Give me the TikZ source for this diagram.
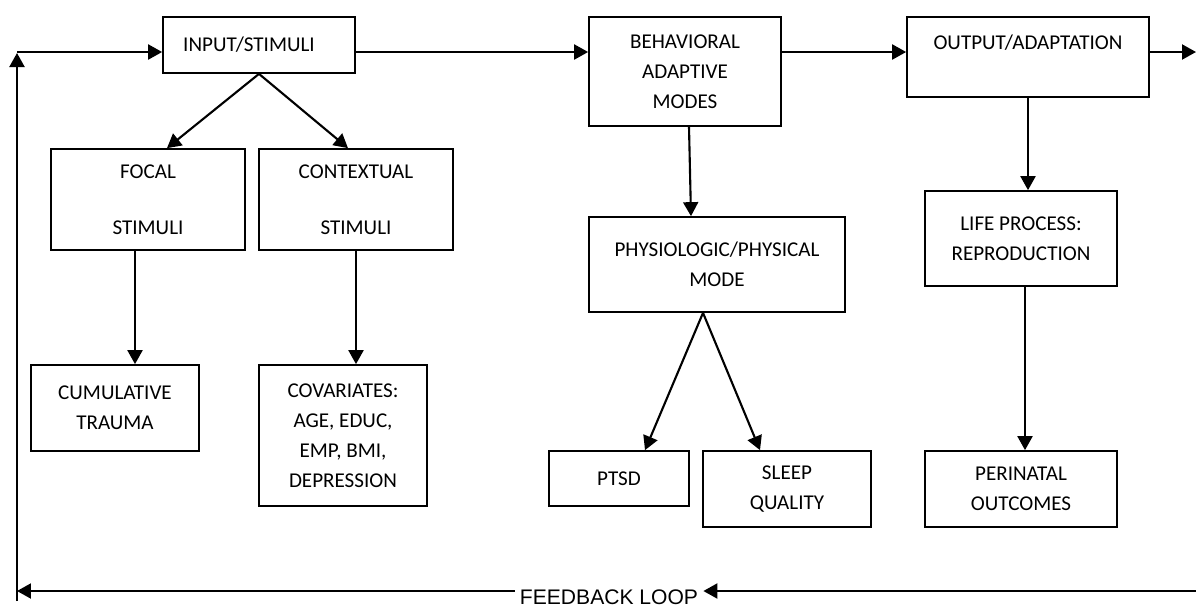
\documentclass[tikz,border=0pt]{standalone}
\usepackage{fontspec}
\setmainfont{Carlito}
\newfontfamily\arialfont{Liberation Sans}
\usetikzlibrary{arrows.meta}
\begin{document}
\begin{tikzpicture}[x=0.02cm, y=-0.02cm,
    box/.style = {shape=rectangle, draw, line width=1pt,
    align=center, inner sep=0pt,
    font=\fontsize{12}{17}\selectfont},
    arr/.style = {-{Triangle[length=0.28cm,width=0.3cm]}, line width=1.2pt},
    ]
  \useasboundingbox (0,0) rectangle (1196,606);

  % top row
  \node[box, minimum width=3.84cm, minimum height=1.12cm] (input) at (259,45) {INPUT/STIMULI\hspace{0.4cm}};
  \node[box, minimum width=3.84cm, minimum height=2.18cm] (behav) at (685,71.5) {BEHAVIORAL\\ADAPTIVE\\MODES};
  \node[box, minimum width=4.84cm, minimum height=1.6cm] (output) at (1028,57) {OUTPUT/ADAPTATION\\\mbox{}};

  % stimuli
  \node[box, minimum width=3.88cm, minimum height=2.02cm] (focal) at (148,199.5) {FOCAL\\[15pt]STIMULI};
  \node[box, minimum width=3.88cm, minimum height=2.02cm] (context) at (356,199.5) {CONTEXTUAL\\[15pt]STIMULI};
  \node[box, minimum width=3.36cm, minimum height=1.72cm] (trauma) at (115,408) {CUMULATIVE\\TRAUMA};
  \node[box, minimum width=3.36cm, minimum height=2.82cm] (covar) at (343,435.5) {COVARIATES:\\AGE, EDUC,\\EMP, BMI,\\DEPRESSION};

  % modes
  \node[box, minimum width=5.12cm, minimum height=1.9cm] (physio) at (717,264.5) {PHYSIOLOGIC/PHYSICAL\\MODE};
  \node[box, minimum width=2.8cm, minimum height=1.1cm] (ptsd) at (619,478.5) {PTSD};
  \node[box, minimum width=3.36cm, minimum height=1.52cm] (sleep) at (787,489) {SLEEP\\QUALITY};

  % life process
  \node[box, minimum width=3.84cm, minimum height=1.9cm] (life) at (1021,238.5) {LIFE PROCESS:\\REPRODUCTION};
  \node[box, minimum width=3.84cm, minimum height=1.52cm] (perinatal) at (1021,489) {PERINATAL\\OUTCOMES};

  % feedback loop
  \node[inner xsep=0.1cm, inner ysep=0pt, anchor=base, font=\arialfont\fontsize{12}{14}\selectfont] (loop) at (609,604) {FEEDBACK LOOP};
  \coordinate (row) at (17,52);
  \coordinate (rowend) at (1196,52);
  \coordinate (loopend) at (1196,591);
  \coordinate (loopleft) at (17,591);
  \coordinate (loopbase) at (17,601);

  \draw[arr] (row) -- (input.west |- row);
  \draw[arr] (input.east |- row) -- (behav.west |- row);
  \draw[arr] (behav.east |- row) -- (output.west |- row);
  \draw[arr] (output.east |- row) -- (rowend);

  \draw[arr] (input.south) -- ([xshift=0.38cm]focal.north);
  \draw[arr] (input.south) -- ([xshift=-0.16cm]context.north);
  \draw[arr] ([xshift=-0.26cm]focal.south) -- ([xshift=-0.26cm]focal.south |- trauma.north);
  \draw[arr] (context.south) -- (context.south |- covar.north);

  \draw[arr] ([xshift=0.08cm]behav.south) -- ([xshift=0.12cm]behav.south |- physio.north);
  \draw[arr] ([xshift=-0.28cm]physio.south) -- ([xshift=0.52cm]ptsd.north);
  \draw[arr] ([xshift=-0.28cm]physio.south) -- ([xshift=-0.54cm]sleep.north);

  \draw[arr] (output.south) -- (output.south |- life.north);
  \draw[arr] ([xshift=0.08cm]life.south) -- ([xshift=0.08cm]life.south |- perinatal.north);

  \draw[arr] (loopend) -- (loop.east |- loopend);
  \draw[arr] (loop.west |- loopend) -- (loopleft);
  \draw[arr] (loopbase) -- ([yshift=-0.02cm]row);
\end{tikzpicture}
\end{document}
